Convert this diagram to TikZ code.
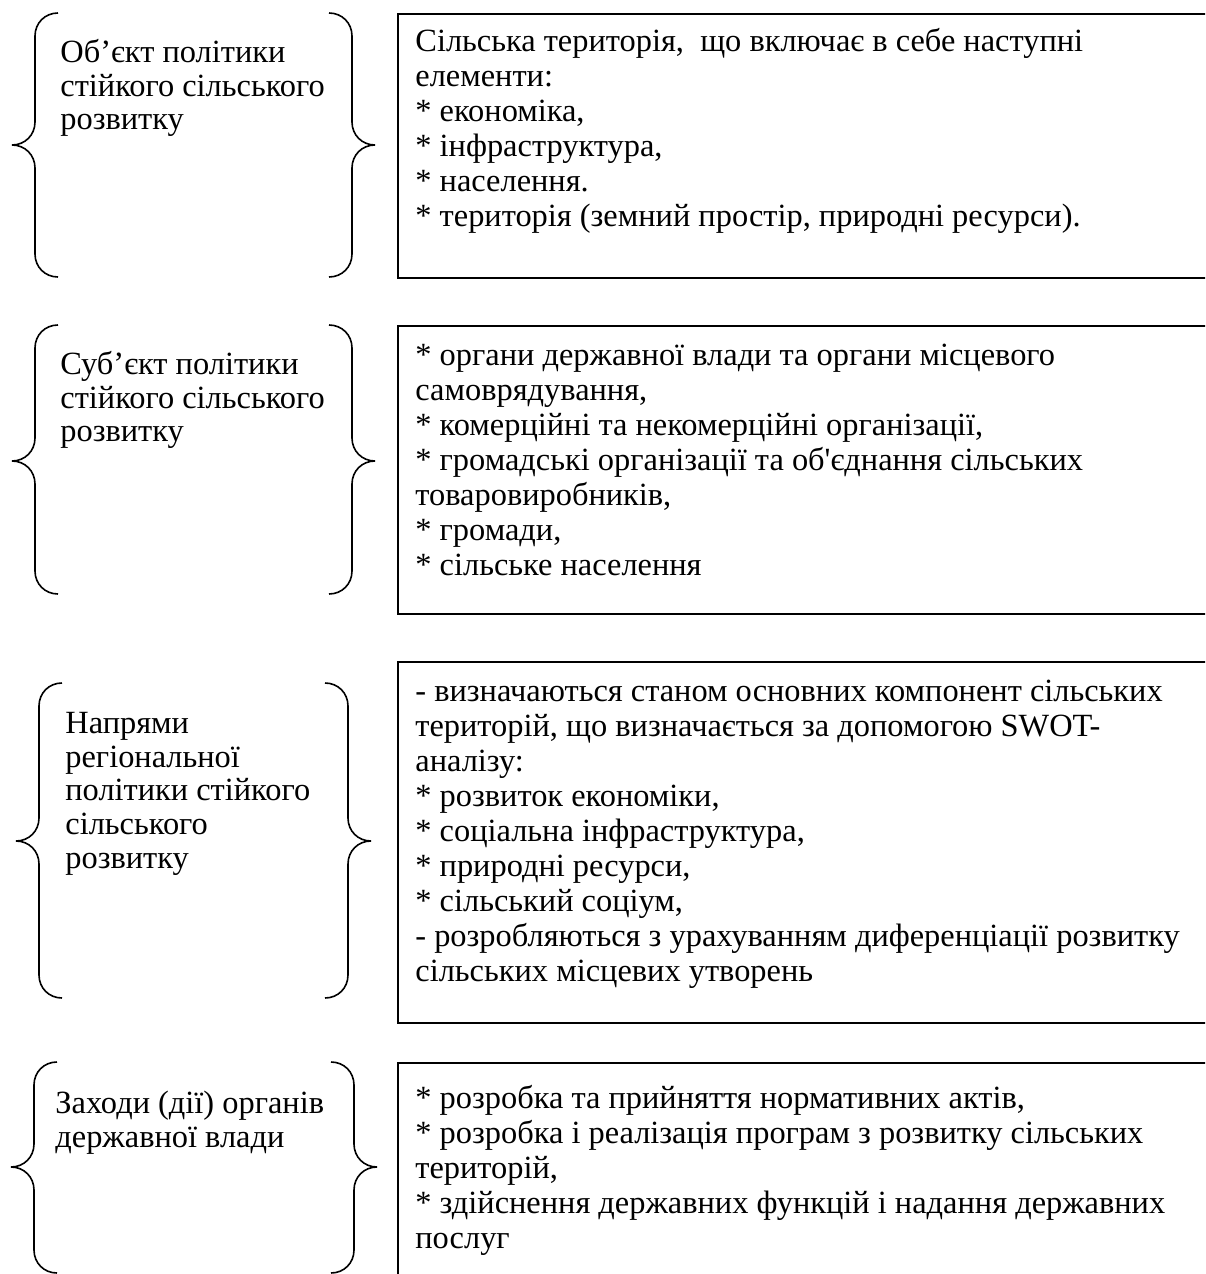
\documentclass[tikz,border=0pt]{standalone}
\usepackage{fontspec}
\setmainfont{Liberation Serif}
\usetikzlibrary{positioning}

% curly brace: vertical x, top y, tip y, bottom y
\newcommand{\leftcurl}[4]{%
  \draw[curl] (#1+23,#2) .. controls (#1+10,#2) and (#1,#2+10) .. (#1,#2+23)
    -- (#1,#3-23) .. controls (#1,#3-10) and (#1-10,#3) .. (#1-23,#3)
    .. controls (#1-10,#3) and (#1,#3+10) .. (#1,#3+23)
    -- (#1,#4-23) .. controls (#1,#4-10) and (#1+10,#4) .. (#1+23,#4);}
\newcommand{\rightcurl}[4]{%
  \draw[curl] (#1-23,#2) .. controls (#1-10,#2) and (#1,#2+10) .. (#1,#2+23)
    -- (#1,#3-23) .. controls (#1,#3-10) and (#1+10,#3) .. (#1+23,#3)
    .. controls (#1+10,#3) and (#1,#3+10) .. (#1,#3+23)
    -- (#1,#4-23) .. controls (#1,#4-10) and (#1-10,#4) .. (#1-23,#4);}

\begin{document}
\begin{tikzpicture} [
    x=0.5pt, y=-0.5pt,
    curl/.style={draw=black, line width=0.8pt},
    frame/.style={rectangle, draw=black, line width=0.8pt, anchor=north west, minimum width=420pt, inner sep=0pt},
    title/.style={anchor=north west, inner sep=0pt, align=left, font=\fontsize{16.2}{16.8}\selectfont},
    content/.style={inner sep=0pt, align=left, font=\fontsize{16.2}{17.5}\selectfont}
]

% page and cut-off frames
\useasboundingbox (0,0) rectangle (1205,1274);
\clip (0,0) rectangle (1205,1274);

% Frames on the right
\node[frame, minimum height=132pt] (objbox) at (397,13) {};
\node[frame, minimum height=144pt] (subjbox) at (397,325) {};
\node[frame, minimum height=180.5pt] (dirbox) at (397,661) {};
\node[frame, minimum height=120pt] (actbox) at (397,1062) {};

% Frame texts
\node[content, below right=7.5pt and 9pt of objbox.north west] (objtext) {Сільська територія,\ \ що включає в себе наступні\\елементи:\\* економіка,\\* інфраструктура,\\* населення.\\* територія (земний простір, природні ресурси).};
\node[content, below right=9.5pt and 9pt of subjbox.north west] (subjtext) {* органи державної влади та органи місцевого\\самоврядування,\\* комерційні та некомерційні організації,\\* громадські організації та об\textquotesingle єднання сільських\\товаровиробників,\\* громади,\\* сільське населення};
\node[content, below right=9.5pt and 9pt of dirbox.north west] (dirtext) {- визначаються станом основних компонент сільських\\територій, що визначається за допомогою SWOT-\\аналізу:\\* розвиток економіки,\\* соціальна інфраструктура,\\* природні ресурси,\\* сільський соціум,\\- розробляються з урахуванням диференціації розвитку\\сільських місцевих утворень};
\node[content, below right=11.5pt and 9pt of actbox.north west] (acttext) {* розробка та прийняття нормативних актів,\\* розробка і реалізація програм з розвитку сільських\\територій,\\* здійснення державних функцій і надання державних\\послуг};

% Titles between the braces
\node[title] (objtitle) at (60,39) {Об’єкт політики\\стійкого сільського\\розвитку};
\node[title] (subjtitle) at (60,351) {Суб’єкт політики\\стійкого сільського\\розвитку};
\node[title] (dirtitle) at (65,712) {Напрями\\регіональної\\політики стійкого\\сільського\\розвитку};
\node[title] (acttitle) at (55,1091) {Заходи (дії) органів\\державної влади};

% Braces
\leftcurl{35}{13}{145}{277}
\rightcurl{352}{13}{145}{277}
\leftcurl{35}{325}{461}{594}
\rightcurl{352}{325}{461}{594}
\leftcurl{39}{683}{841}{998}
\rightcurl{348}{683}{841}{998}
\leftcurl{34}{1062}{1167}{1273}
\rightcurl{354}{1062}{1167}{1273}

\end{tikzpicture}
\end{document}
